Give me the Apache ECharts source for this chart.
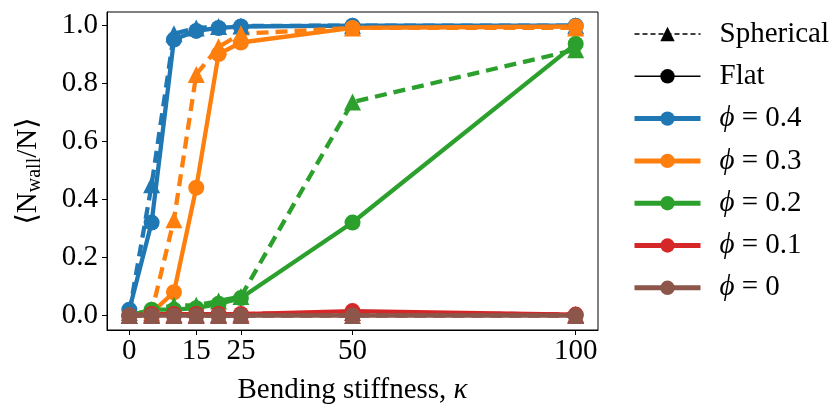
<!DOCTYPE html>
<html>
<head>
<meta charset="utf-8">
<script src="https://cdn.jsdelivr.net/npm/echarts@6/dist/echarts.min.js"></script>
<style>html,body{margin:0;padding:0;background:#fff;}#chart{width:840px;height:413px;}</style>
</head>
<body>
<div id="chart"></div>
<script>
const kappa = [0, 5, 10, 15, 20, 25, 50, 100];
const xTicks = [0, 15, 25, 50, 100];
const yTicks = [0, 0.2, 0.4, 0.6, 0.8, 1.0];
const phiLabels = ['ϕ = 0.4', 'ϕ = 0.3', 'ϕ = 0.2', 'ϕ = 0.1', 'ϕ = 0'];
const colors = ['#1f77b4', '#ff7f0e', '#2ca02c', '#d62728', '#8c564b'];
const flat04 = [0.02, 0.32, 0.95, 0.98, 0.99, 0.995, 0.998, 0.998];
const sph04  = [0.01, 0.45, 0.97, 0.99, 0.995, 0.997, 0.998, 0.998];
const flat03 = [0.0, 0.01, 0.08, 0.44, 0.90, 0.94, 0.99, 0.995];
const sph03  = [0.0, 0.01, 0.33, 0.83, 0.925, 0.97, 0.99, 0.99];
const flat02 = [0.0, 0.02, 0.02, 0.025, 0.04, 0.06, 0.32, 0.935];
const sph02  = [0.0, 0.02, 0.035, 0.035, 0.05, 0.065, 0.735, 0.915];
const flat01 = [0.0, 0.005, 0.005, 0.005, 0.005, 0.005, 0.015, 0.003];
const sph01  = [0.0, 0.003, 0.003, 0.003, 0.003, 0.005, 0.01, 0.003];
const flat0  = [0, 0, 0, 0, 0, 0, 0, 0];
const sph0   = [0, 0, 0, 0, 0, 0, 0, 0];

const flats = [flat04, flat03, flat02, flat01, flat0];
const sphs = [sph04, sph03, sph02, sph01, sph0];
const FONT = "'Liberation Serif', 'DejaVu Serif', serif";
const pairs = arr => kappa.map((k, i) => [k, arr[i]]);

const series = [];
for (let i = 0; i < 5; i++) {
  series.push({
    name: 'sph' + i, type: 'line', data: pairs(sphs[i]),
    symbol: 'triangle', symbolSize: 17, color: colors[i],
    lineStyle: { width: 4.3, type: [12, 7], color: colors[i] },
    itemStyle: { color: colors[i] }, animation: false
  });
  series.push({
    name: phiLabels[i], type: 'line', data: pairs(flats[i]),
    symbol: 'circle', symbolSize: 16, color: colors[i],
    lineStyle: { width: 4.3, color: colors[i] },
    itemStyle: { color: colors[i] }, animation: false
  });
}
series.push({ name: 'Spherical', type: 'line', data: [], symbol: 'triangle', color: '#000',
  lineStyle: { width: 1.5, type: [5, 3], color: '#000' }, itemStyle: { color: '#000' } });
series.push({ name: 'Flat', type: 'line', data: [], symbol: 'circle', color: '#000',
  lineStyle: { width: 1.5, color: '#000' }, itemStyle: { color: '#000' } });

const legendData = [
  { name: 'Spherical', lineStyle: { width: 1.5, type: [5, 3], color: '#000' } },
  { name: 'Flat', lineStyle: { width: 1.5, color: '#000' } }
].concat(phiLabels.map((n, i) => ({ name: n, lineStyle: { width: 5, color: colors[i] } })));

const chart = echarts.init(document.getElementById('chart'));
chart.setOption({
  animation: false,
  backgroundColor: '#fff',
  grid: { left: 107, top: 12, width: 491, height: 318, show: true, borderColor: '#000', borderWidth: 1, backgroundColor: 'transparent' },
  legend: {
    orient: 'vertical', left: 627, top: 14,
    itemWidth: 66, itemHeight: 18, itemGap: 12.3,
    data: legendData,
    formatter: n => n.replace('ϕ', '{i|ϕ}'),
    textStyle: { fontFamily: FONT, fontSize: 29, color: '#000', lineHeight: 30, padding: [0, 0, 0, 14],
      rich: { i: { fontFamily: FONT, fontStyle: 'italic', fontSize: 29, color: '#000' } } },
    selectedMode: false
  },
  xAxis: {
    type: 'value', min: -5, max: 105,
    name: 'Bending stiffness, {i|κ}', nameLocation: 'middle', nameGap: 46,
    nameTextStyle: { fontFamily: FONT, fontSize: 29, color: '#000',
      rich: { i: { fontFamily: FONT, fontStyle: 'italic', fontSize: 29, color: '#000' } } },
    axisLine: { show: true, onZero: false, lineStyle: { color: '#000', width: 1 } },
    axisTick: { show: true, inside: false, length: 5, lineStyle: { color: '#000' }, customValues: xTicks },
    axisLabel: { fontFamily: FONT, fontSize: 29, color: '#000', margin: 7, customValues: xTicks },
    splitLine: { show: false }
  },
  yAxis: {
    type: 'value', min: -0.05, max: 1.045,
    name: '⟨N{sub|wall}/N⟩', nameLocation: 'middle', nameGap: 62, nameRotate: 90,
    nameTextStyle: { fontFamily: FONT, fontSize: 29, color: '#000',
      rich: { sub: { fontFamily: FONT, fontSize: 20, color: '#000', verticalAlign: 'bottom', padding: [14, 0, 0, 0] } } },
    axisLine: { show: true, onZero: false, lineStyle: { color: '#000', width: 1 } },
    axisTick: { show: true, inside: false, length: 5, lineStyle: { color: '#000' }, customValues: yTicks },
    axisLabel: { fontFamily: FONT, fontSize: 29, color: '#000', margin: 9, customValues: yTicks,
      formatter: v => v.toFixed(1) },
    splitLine: { show: false }
  },
  series: series
});
</script>
</body>
</html>
